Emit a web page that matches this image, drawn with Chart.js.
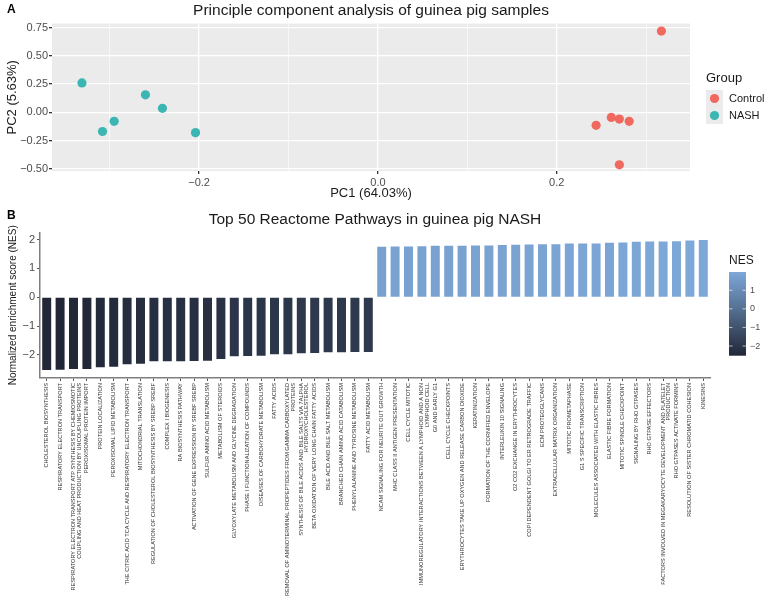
<!DOCTYPE html>
<html>
<head>
<meta charset="utf-8">
<script src="https://cdn.jsdelivr.net/npm/chart.js"></script>
<style>
  body { margin: 0; background: #fff; }
  #wrap { position: relative; width: 769px; height: 610px; }
  canvas { position: absolute; left: 0; }
</style>
</head>
<body>
<div id="wrap">
  <canvas id="pcaChart" width="769" height="205" style="top:0"></canvas>
  <canvas id="nesChart" width="769" height="410" style="top:200px"></canvas>
</div>
<script>
// panel A data
const controlPC1 = [0.317, 0.244, 0.261, 0.270, 0.281, 0.270];
const controlPC2 = [0.72, -0.115, -0.045, -0.06, -0.08, -0.465];
const nashPC1 = [-0.331, -0.308, -0.295, -0.260, -0.241, -0.204];
const nashPC2 = [0.26, -0.17, -0.08, 0.155, 0.035, -0.18];
const groups = ['Control', 'NASH'];
const groupColors = ['#F0695E', '#3CB6B3'];

// panel B data
const pathways = [
  'CHOLESTEROL BIOSYNTHESIS',
  'RESPIRATORY ELECTRON TRANSPORT',
  ['RESPIRATORY ELECTRON TRANSPORT ATP SYNTHESIS BY CHEMIOSMOTIC', 'COUPLING AND HEAT PRODUCTION BY UNCOUPLING PROTEINS'],
  'PEROXISOMAL PROTEIN IMPORT',
  'PROTEIN LOCALIZATION',
  'PEROXISOMAL LIPID METABOLISM',
  'THE CITRIC ACID TCA CYCLE AND RESPIRATORY ELECTRON TRANSPORT',
  'MITOCHONDRIAL TRANSLATION',
  'REGULATION OF CHOLESTEROL BIOSYNTHESIS BY SREBP SREBF',
  'COMPLEX I BIOGENESIS',
  'RA BIOSYNTHESIS PATHWAY',
  'ACTIVATION OF GENE EXPRESSION BY SREBF SREBP',
  'SULFUR AMINO ACID METABOLISM',
  'METABOLISM OF STEROIDS',
  'GLYOXYLATE METABOLISM AND GLYCINE DEGRADATION',
  'PHASE I FUNCTIONALIZATION OF COMPOUNDS',
  'DISEASES OF CARBOHYDRATE METABOLISM',
  'FATTY ACIDS',
  ['REMOVAL OF AMINOTERMINAL PROPEPTIDES FROM GAMMA CARBOXYLATED', 'PROTEINS'],
  ['SYNTHESIS OF BILE ACIDS AND BILE SALTS VIA 7ALPHA', 'HYDROXYCHOLESTEROL'],
  'BETA OXIDATION OF VERY LONG CHAIN FATTY ACIDS',
  'BILE ACID AND BILE SALT METABOLISM',
  'BRANCHED CHAIN AMINO ACID CATABOLISM',
  'PHENYLALANINE AND TYROSINE METABOLISM',
  'FATTY ACID METABOLISM',
  'NCAM SIGNALING FOR NEURITE OUT GROWTH',
  'MHC CLASS II ANTIGEN PRESENTATION',
  'CELL CYCLE MITOTIC',
  ['IMMUNOREGULATORY INTERACTIONS BETWEEN A LYMPHOID AND A NON', 'LYMPHOID CELL'],
  'G0 AND EARLY G1',
  'CELL CYCLE CHECKPOINTS',
  'ERYTHROCYTES TAKE UP OXYGEN AND RELEASE CARBON DIOXIDE',
  'KERATINIZATION',
  'FORMATION OF THE CORNIFIED ENVELOPE',
  'INTERLEUKIN 10 SIGNALING',
  'O2 CO2 EXCHANGE IN ERYTHROCYTES',
  'COPI DEPENDENT GOLGI TO ER RETROGRADE TRAFFIC',
  'ECM PROTEOGLYCANS',
  'EXTRACELLULAR MATRIX ORGANIZATION',
  'MITOTIC PROMETAPHASE',
  'G1 S SPECIFIC TRANSCRIPTION',
  'MOLECULES ASSOCIATED WITH ELASTIC FIBRES',
  'ELASTIC FIBRE FORMATION',
  'MITOTIC SPINDLE CHECKPOINT',
  'SIGNALING BY RHO GTPASES',
  'RHO GTPASE EFFECTORS',
  ['FACTORS INVOLVED IN MEGAKARYOCYTE DEVELOPMENT AND PLATELET', 'PRODUCTION'],
  'RHO GTPASES ACTIVATE FORMINS',
  'RESOLUTION OF SISTER CHROMATID COHESION',
  'KINESINS'
];
const nes = [
  -2.52, -2.51, -2.49, -2.49, -2.43, -2.41, -2.32, -2.31, -2.22, -2.22,
  -2.22, -2.21, -2.20, -2.14, -2.05, -2.04, -2.03, -1.98, -1.98, -1.94,
  -1.93, -1.91, -1.91, -1.90, -1.90,
  1.75, 1.76, 1.76, 1.77, 1.78, 1.78, 1.78, 1.79, 1.79, 1.81,
  1.82, 1.83, 1.84, 1.84, 1.86, 1.86, 1.86, 1.89, 1.90, 1.92,
  1.93, 1.93, 1.94, 1.97, 1.98
];
const nesTicks = [1, 0, -1, -2];
const nesLow = [33, 39, 55];
const nesHigh = [125, 168, 216];

Chart.defaults.font.family = '"Liberation Sans", Arial, Helvetica, sans-serif';
Chart.defaults.color = '#4D4D4D';

function num(v, d) {
  if (Math.abs(v) < 1e-9) v = 0;
  return v.toFixed(d).replace('-', '\u2212');
}

const nesMin = Math.min(...nes);
const nesMax = Math.max(...nes);
function nesColor(v) {
  const t = (v - nesMin) / (nesMax - nesMin);
  const c = nesLow.map((lo, i) => Math.round(lo + (nesHigh[i] - lo) * t));
  return 'rgb(' + c.join(',') + ')';
}

// ---------- panel A ----------
const pcaExtras = {
  id: 'pcaExtras',
  beforeDraw(chart) {
    const {ctx, chartArea: a} = chart;
    ctx.save();
    ctx.fillStyle = '#EBEBEB';
    ctx.fillRect(a.left, a.top, a.right - a.left, a.bottom - a.top);
    ctx.restore();
  },
  afterDraw(chart) {
    const ctx = chart.ctx;
    ctx.save();
    ctx.fillStyle = '#000';
    ctx.font = 'bold 12px "Liberation Sans", Arial, sans-serif';
    ctx.textBaseline = 'middle';
    ctx.fillText('A', 7, 10);

    ctx.fillStyle = '#1A1A1A';
    ctx.font = '13px "Liberation Sans", Arial, sans-serif';
    ctx.fillText('Group', 706, 78);
    groups.forEach((g, i) => {
      const y = 90 + i * 17;
      ctx.fillStyle = '#EBEBEB';
      ctx.fillRect(706, y, 17, 17);
      ctx.beginPath();
      ctx.arc(714.5, y + 8.5, 4.6, 0, Math.PI * 2);
      ctx.fillStyle = groupColors[i];
      ctx.fill();
      ctx.fillStyle = '#1A1A1A';
      ctx.font = '11px "Liberation Sans", Arial, sans-serif';
      ctx.fillText(g, 729, y + 9);
    });
    ctx.restore();
  }
};

new Chart(document.getElementById('pcaChart'), {
  type: 'scatter',
  data: {
    datasets: [
      {
        label: groups[0],
        data: controlPC1.map((x, i) => ({x: x, y: controlPC2[i]})),
        backgroundColor: groupColors[0],
        borderWidth: 0,
        pointRadius: 4.6
      },
      {
        label: groups[1],
        data: nashPC1.map((x, i) => ({x: x, y: nashPC2[i]})),
        backgroundColor: groupColors[1],
        borderWidth: 0,
        pointRadius: 4.6
      }
    ]
  },
  options: {
    responsive: false,
    animation: false,
    layout: { padding: { right: 79 } },
    plugins: {
      legend: { display: false },
      tooltip: { enabled: false },
      title: {
        display: true,
        text: 'Principle component analysis of guinea pig samples',
        color: '#1A1A1A',
        font: { size: 15.5, weight: 'normal' },
        padding: { top: 1, bottom: 4 },
        fullSize: false
      }
    },
    scales: {
      x: {
        type: 'linear',
        min: -0.3645,
        max: 0.349,
        ticks: {
          stepSize: 0.1,
          includeBounds: false,
          padding: 2,
          color: '#4D4D4D',
          font: { size: 11 },
          callback: v => Math.round(v * 10) % 2 === 0 ? num(v, 1) : ''
        },
        grid: {
          color: '#FFFFFF',
          lineWidth: c => Math.round(c.tick.value * 10) % 2 === 0 ? 1.3 : 0.6,
          tickColor: c => Math.round(c.tick.value * 10) % 2 === 0 ? '#333333' : 'rgba(0,0,0,0)',
          tickLength: 3
        },
        border: { display: false },
        title: {
          display: true,
          text: 'PC1 (64.03%)',
          color: '#1A1A1A',
          font: { size: 13 },
          padding: { top: 0, bottom: 4 }
        },
        afterFit: s => { s.height = 34; }
      },
      y: {
        min: -0.52,
        max: 0.786,
        ticks: {
          stepSize: 0.125,
          includeBounds: false,
          padding: 1,
          color: '#4D4D4D',
          font: { size: 11 },
          callback: v => Math.round(v * 8) % 2 === 0 ? num(v, 2) : ''
        },
        grid: {
          color: '#FFFFFF',
          lineWidth: c => Math.round(c.tick.value * 8) % 2 === 0 ? 1.3 : 0.6,
          tickColor: c => Math.round(c.tick.value * 8) % 2 === 0 ? '#333333' : 'rgba(0,0,0,0)',
          tickLength: 3
        },
        border: { display: false },
        title: {
          display: true,
          text: 'PC2 (5.63%)',
          color: '#1A1A1A',
          font: { size: 13 },
          padding: { top: 5, bottom: 0 }
        },
        afterFit: s => { s.width = 52; }
      }
    }
  },
  plugins: [pcaExtras]
});

// ---------- panel B ----------
const nesExtras = {
  id: 'nesExtras',
  afterDraw(chart) {
    const ctx = chart.ctx;
    ctx.save();
    ctx.fillStyle = '#000';
    ctx.font = 'bold 12px "Liberation Sans", Arial, sans-serif';
    ctx.textBaseline = 'middle';
    ctx.fillText('B', 7, 16);

    // colour bar legend
    const bx = 729, bw = 17, top = 72, bottom = 155.7;
    const yOf = v => bottom - (v - nesMin) / (nesMax - nesMin) * (bottom - top);
    const grad = ctx.createLinearGradient(0, bottom, 0, top);
    grad.addColorStop(0, nesColor(nesMin));
    grad.addColorStop(0.5, nesColor((nesMin + nesMax) / 2));
    grad.addColorStop(1, nesColor(nesMax));
    ctx.fillStyle = grad;
    ctx.fillRect(bx, top, bw, bottom - top);

    ctx.fillStyle = '#1A1A1A';
    ctx.font = '12px "Liberation Sans", Arial, sans-serif';
    ctx.fillText('NES', 729, 61);

    ctx.strokeStyle = 'rgba(255,255,255,0.8)';
    ctx.lineWidth = 0.8;
    ctx.font = '9px "Liberation Sans", Arial, sans-serif';
    ctx.fillStyle = '#4D4D4D';
    nesTicks.forEach(t => {
      const y = yOf(t);
      ctx.beginPath();
      ctx.moveTo(bx, y); ctx.lineTo(bx + 3.5, y);
      ctx.moveTo(bx + bw - 3.5, y); ctx.lineTo(bx + bw, y);
      ctx.stroke();
      ctx.fillText(num(t, 0), 750, y);
    });
    ctx.restore();
  }
};

new Chart(document.getElementById('nesChart'), {
  type: 'bar',
  data: {
    labels: pathways,
    datasets: [{
      label: 'NES',
      data: nes,
      backgroundColor: nes.map(nesColor),
      borderWidth: 0,
      barPercentage: 0.67,
      categoryPercentage: 1.0
    }]
  },
  options: {
    responsive: false,
    animation: false,
    layout: { padding: { right: 59 } },
    plugins: {
      legend: { display: false },
      tooltip: { enabled: false },
      title: {
        display: true,
        text: 'Top 50 Reactome Pathways in guinea pig NASH',
        color: '#1A1A1A',
        font: { size: 15.5, weight: 'normal' },
        padding: { top: 10, bottom: 4 },
        fullSize: false
      }
    },
    scales: {
      x: {
        grid: {
          display: true,
          offset: false,
          drawOnChartArea: false,
          drawTicks: true,
          tickLength: 3,
          tickColor: '#555555'
        },
        border: { display: true, color: '#7F7F7F', width: 1.5 },
        ticks: {
          autoSkip: false,
          minRotation: 90,
          maxRotation: 90,
          padding: 2,
          color: '#333333',
          font: { size: 5.6, lineHeight: 1.0 }
        },
        afterFit: s => { s.height = 232; }
      },
      y: {
        min: -2.8,
        max: 2.24,
        ticks: {
          stepSize: 1,
          includeBounds: false,
          padding: 2,
          color: '#4D4D4D',
          font: { size: 11 },
          callback: v => num(v, 0)
        },
        grid: {
          drawOnChartArea: false,
          drawTicks: true,
          tickLength: 3,
          tickColor: '#555555'
        },
        border: { display: true, color: '#7F7F7F', width: 1.5 },
        title: {
          display: true,
          text: 'Normalized enrichment score (NES)',
          color: '#1A1A1A',
          font: { size: 10 },
          padding: { top: 7, bottom: 0 }
        },
        afterFit: s => { s.width = 40; }
      }
    }
  },
  plugins: [nesExtras]
});
</script>
</body>
</html>
